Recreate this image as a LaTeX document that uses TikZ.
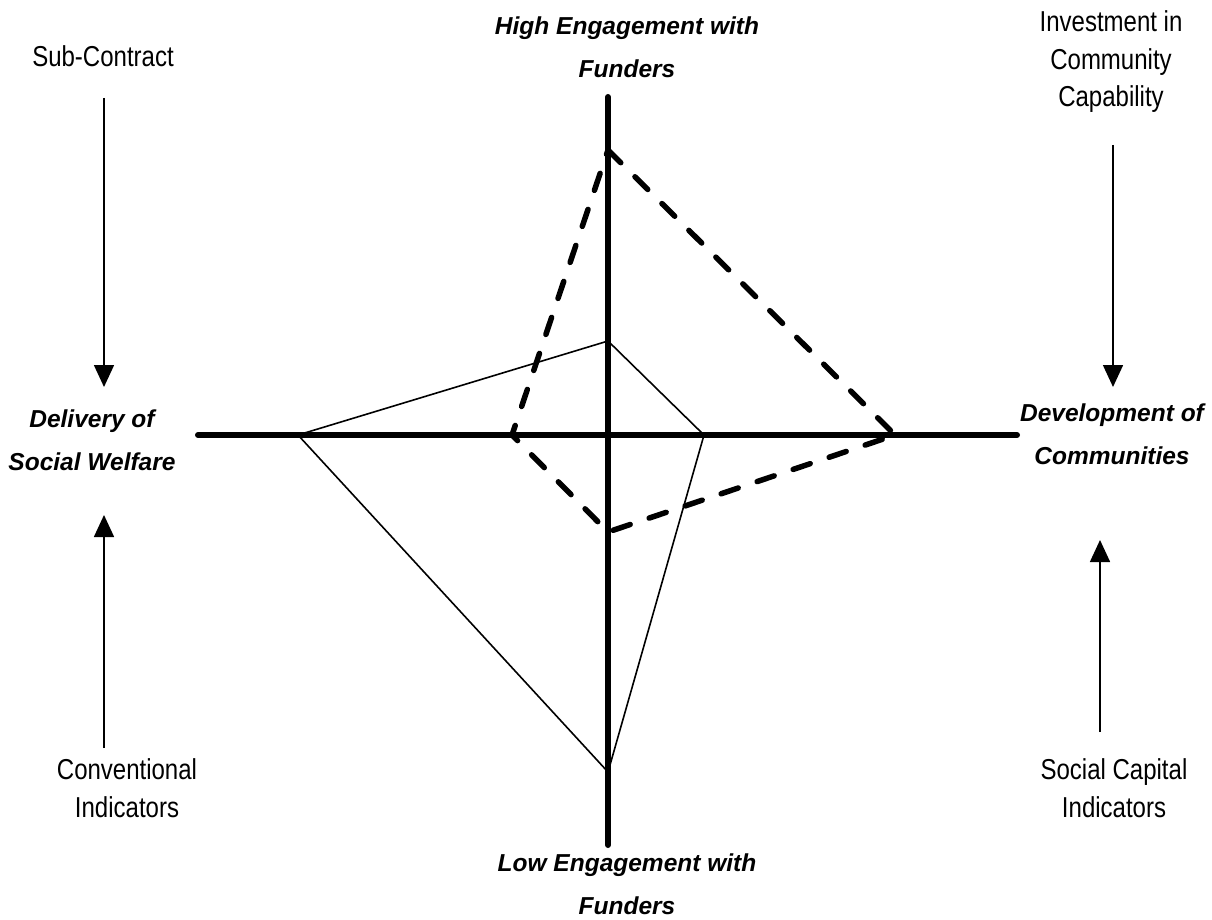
\documentclass[tikz,border=0pt]{standalone}
\usepackage{graphicx}
\usepackage{fontspec}
\setmainfont{Liberation Sans}
\usetikzlibrary{arrows.meta}
\newcommand{\plainlines}[1]{\scalebox{1}[1.2]{\begin{tabular}{@{}c@{}}#1\end{tabular}}}
\begin{document}
\begin{tikzpicture}[x=1pt,y=-1pt,
  axisline/.style={line width=6pt,line cap=round},
  dashquad/.style={line width=5.5pt,dash pattern=on 18pt off 20pt,line cap=round,line join=miter},
  thinquad/.style={line width=1.6pt,line join=miter},
  arr/.style={line width=1.6pt,-{Triangle[width=20pt,length=22pt]}},
  plainlbl/.style={inner sep=0pt,font=\fontsize{24}{31.25}\selectfont},
  boldlbl/.style={inner sep=0pt,align=center,font=\fontsize{24.5}{43}\selectfont\bfseries\itshape}]
\useasboundingbox (0,0) rectangle (1212,920);

% axis end points
\coordinate (axT) at (608,97);
\coordinate (axB) at (608,845);
\coordinate (axL) at (198,435);
\coordinate (axR) at (1017,435);

% dashed quadrilateral
\coordinate (dT) at (608,150);
\coordinate (dR) at (895,435);
\coordinate (dB) at (608,532);
\coordinate (dL) at (512,435);
% thin quadrilateral
\coordinate (tT) at (608,341);
\coordinate (tR) at (704,435);
\coordinate (tB) at (608,772);
\coordinate (tL) at (298,435);

\draw[thinquad] (tT) -- (tR) -- (tB) -- (tL) -- cycle;
\draw[dashquad] (dT) -- (dR) -- (dB) -- (dL) -- cycle;
\draw[axisline] (axT) -- (axB);
\draw[axisline] (axL) -- (axR);

% labels
\node[boldlbl] (high) at (627,47) {High Engagement with\\Funders};
\node[boldlbl] (low) at (627,884) {Low Engagement with\\Funders};
\node[boldlbl] (dsw) at (92,440) {Delivery of\\Social Welfare};
\node[boldlbl] (dev) at (1112,434) {Development of\\Communities};

\node[plainlbl] (sub) at (103,59) {\plainlines{Sub-Contract}};
\node[plainlbl] (inv) at (1111,62) {\plainlines{Investment in\\Community\\Capability}};
\node[plainlbl] (conv) at (127,791) {\plainlines{Conventional\\Indicators}};
\node[plainlbl] (soc) at (1114,791) {\plainlines{Social Capital\\Indicators}};

% arrows
\coordinate (a1s) at (104,98);
\coordinate (a1e) at (104,387);
\coordinate (a2s) at (104,748);
\coordinate (a2e) at (104,515);
\coordinate (a3s) at (1113,145);
\coordinate (a3e) at (1113,387);
\coordinate (a4s) at (1100,732);
\coordinate (a4e) at (1100,540);
\draw[arr] (a1s) -- (a1e);
\draw[arr] (a2s) -- (a2e);
\draw[arr] (a3s) -- (a3e);
\draw[arr] (a4s) -- (a4e);
\end{tikzpicture}
\end{document}
